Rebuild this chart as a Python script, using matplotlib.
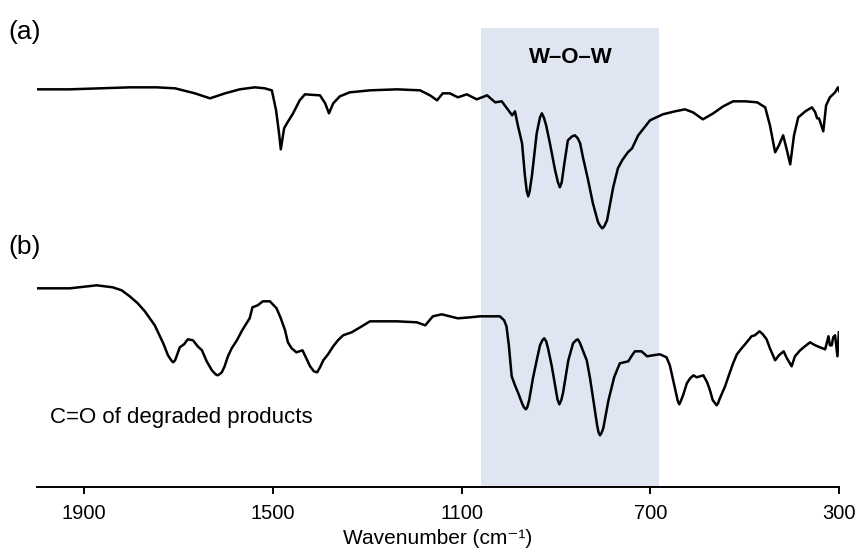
import numpy as np
import matplotlib
matplotlib.use("Agg")
import matplotlib.pyplot as plt

plt.rcParams['font.family'] = ['Liberation Sans', 'DejaVu Sans']

# Spectrum (a): wavenumber (cm-1) and transmittance (a.u.)
wn_a = [2000, 1930, 1866, 1803, 1746, 1707, 1665, 1633, 1601, 1570, 1538, 1517, 1502,
        1493, 1487, 1483, 1479, 1476, 1470, 1457, 1443, 1432, 1400, 1389, 1381, 1372, 1358, 1337,
        1294, 1237, 1188, 1167, 1152, 1140, 1125, 1108, 1089, 1068, 1046, 1029, 1015,
        993, 987, 981, 972, 966, 962, 959, 956, 951, 941, 934, 930, 926, 921, 913, 902,
        896, 892, 888, 883, 875, 866, 860, 854,
        849, 843, 832, 822, 811, 806, 802, 798, 792, 779, 769, 760, 748, 739, 726, 701, 674, 648,
        627, 610, 589, 567, 546, 525, 499, 474, 457, 447, 436, 428, 419, 411, 404, 396,
        387, 372, 358, 351, 347, 343, 334, 328, 320, 309, 303, 300]
t_a = [3.98, 3.98, 3.99, 4.00, 4.00, 3.99, 3.94, 3.89, 3.94, 3.98, 4.00, 3.99, 3.97,
       3.77, 3.55, 3.38, 3.50, 3.59, 3.64, 3.74, 3.87, 3.93, 3.92, 3.84, 3.74, 3.84, 3.91, 3.95,
       3.97, 3.98, 3.97, 3.92, 3.87, 3.94, 3.94, 3.90, 3.93, 3.88, 3.92, 3.85, 3.86,
       3.72, 3.76, 3.62, 3.44, 3.12, 2.96, 2.91, 2.96, 3.12, 3.54, 3.70, 3.74, 3.70, 3.62, 3.44, 3.17,
       3.05, 3.00, 3.05, 3.22, 3.47, 3.51, 3.52, 3.49,
       3.44, 3.30, 3.07, 2.84, 2.65, 2.61, 2.59, 2.61, 2.67, 3.00, 3.19, 3.27,
       3.35, 3.39, 3.52, 3.67, 3.73, 3.76, 3.78, 3.75, 3.68, 3.74, 3.81, 3.86, 3.86,
       3.85, 3.80, 3.62, 3.35, 3.42, 3.52, 3.37, 3.23, 3.52, 3.70, 3.76, 3.80, 3.75,
       3.69, 3.69, 3.56, 3.82, 3.90, 3.95, 4.00, 3.96]

# Spectrum (b)
wn_b = [2000, 1930, 1873, 1839, 1820, 1803, 1786, 1771, 1750, 1732, 1722, 1715, 1711, 1707, 1703,
        1697, 1688, 1680, 1669, 1659, 1650, 1640, 1629, 1621, 1617, 1613, 1608, 1602, 1595, 1587,
        1576, 1566, 1557, 1549, 1543, 1532, 1521, 1506, 1492, 1483, 1474, 1468, 1460,
        1450, 1437, 1430, 1421, 1413, 1406, 1400, 1393, 1383, 1372, 1362, 1351, 1333,
        1315, 1294, 1237, 1195, 1177, 1161, 1142, 1125, 1108, 1082, 1061, 1019, 1010,
        1005, 1000, 994, 987, 980, 972, 968, 964, 961, 957, 949, 941, 934, 929, 925, 921, 917, 909, 902,
        897, 893, 889, 885, 874, 864, 858, 854, 850, 845, 835, 828, 821, 813, 810, 807, 804, 800, 789, 777, 765, 756,
        747, 739, 733, 719, 707, 695, 680, 666, 659, 652, 646, 642, 639, 636, 631, 623, 616, 609,
        602, 595, 588, 580, 574, 568, 563, 560, 557, 553, 542, 534, 525, 517, 507, 498, 486, 479,
        469, 462, 454, 447, 436, 428, 418, 411, 401, 394, 383, 373, 362, 351, 341, 330,
        323, 320, 316, 313, 309, 304, 301]
t_b = [1.99, 1.99, 2.02, 2.00, 1.97, 1.91, 1.84, 1.76, 1.62, 1.44, 1.32, 1.27, 1.25, 1.27, 1.32,
       1.40, 1.43, 1.48, 1.47, 1.41, 1.37, 1.26, 1.17, 1.13, 1.12, 1.13, 1.15, 1.21, 1.31, 1.39,
       1.47, 1.56, 1.63, 1.69, 1.80, 1.82, 1.86, 1.86, 1.79, 1.69, 1.57, 1.45, 1.39,
       1.35, 1.37, 1.30, 1.21, 1.16, 1.15, 1.20, 1.27, 1.33, 1.41, 1.47, 1.52, 1.55,
       1.60, 1.66, 1.66, 1.65, 1.62, 1.71, 1.73, 1.71, 1.69, 1.70, 1.71, 1.71, 1.67,
       1.61, 1.42, 1.11, 1.02, 0.94, 0.84, 0.80, 0.78, 0.80, 0.87, 1.09, 1.27, 1.42, 1.47, 1.49, 1.46, 1.39,
       1.21, 1.02, 0.88, 0.83, 0.87, 0.95, 1.27, 1.44, 1.47, 1.48, 1.45, 1.39, 1.27, 1.09, 0.87, 0.62, 0.55, 0.52,
       0.54, 0.59, 0.87, 1.10, 1.24, 1.25, 1.26, 1.32, 1.36, 1.36, 1.31, 1.32, 1.33, 1.30,
       1.22, 1.07, 0.94, 0.86, 0.83, 0.86, 0.92, 1.04, 1.09, 1.12, 1.10, 1.11, 1.12, 1.05, 0.97,
       0.87, 0.84, 0.82, 0.84, 0.89, 1.01, 1.12, 1.24, 1.33, 1.39, 1.44, 1.51, 1.52, 1.56, 1.53,
       1.48, 1.39, 1.27, 1.32, 1.36, 1.29, 1.21, 1.31, 1.37, 1.41, 1.45, 1.42, 1.40,
       1.38, 1.51, 1.42, 1.42, 1.50, 1.52, 1.31, 1.55]

band_range = [1058, 681]
xticks = [1900, 1500, 1100, 700, 300]
xlim = [2000, 300]

fig = plt.figure(figsize=(8.62, 5.53), dpi=100)
ax = fig.add_axes([0.0426, 0.1188, 0.9311, 0.8305])

ax.axvspan(band_range[0], band_range[1], color='#dfe6f1', lw=0, zorder=0)
ax.plot(wn_a, t_a, color='black', lw=1.8, zorder=3, solid_joinstyle='round')
ax.plot(wn_b, t_b, color='black', lw=1.8, zorder=3, solid_joinstyle='round')

ax.set_xlim(xlim)
ax.set_ylim(0, 4.593)
ax.set_xticks(xticks)
ax.set_xticklabels([str(v) for v in xticks], fontsize=14.5)
ax.set_yticks([])
for s in ['left', 'right', 'top']:
    ax.spines[s].set_visible(False)
ax.spines['bottom'].set_linewidth(1.4)
ax.tick_params(axis='x', direction='out', length=5, width=1.4, pad=7)
ax.set_xlabel('Wavenumber (cm⁻¹)', fontsize=15, labelpad=4)

fig.text(8 / 862, 1 - 32 / 553, '(a)', fontsize=19, ha='left', va='center')
fig.text(8 / 862, 1 - 247 / 553, '(b)', fontsize=19, ha='left', va='center')
ax.text(np.mean(band_range), 4.30, 'W–O–W', fontsize=16, fontweight='bold',
        ha='center', va='center')
fig.text(50 / 862, 1 - 418 / 553, 'C=O of degraded products', fontsize=16,
         ha='left', va='center')

fig.savefig('out.png', dpi=100)
